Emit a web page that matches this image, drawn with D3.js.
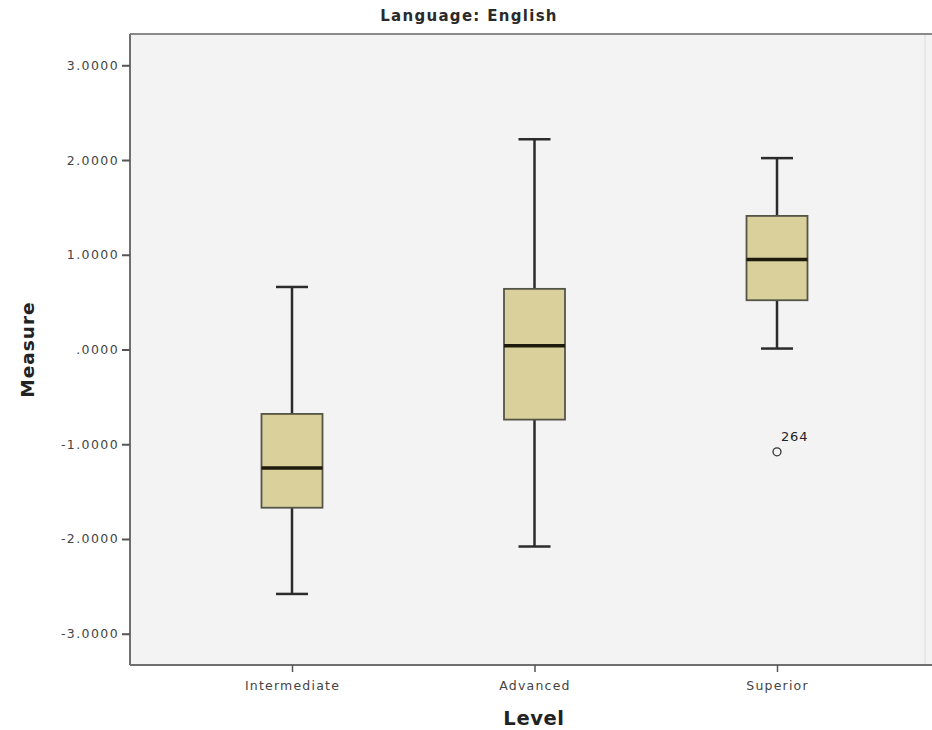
<!DOCTYPE html>
<html>
<head>
<meta charset="utf-8">
<script src="https://cdn.jsdelivr.net/npm/d3@7"></script>
<style>
  html, body { margin: 0; padding: 0; background: #fff; }
  svg { display: block; }
  text { font-family: "DejaVu Sans", "Liberation Sans", sans-serif; }
</style>
</head>
<body>
<svg id="chart" width="932" height="730"></svg>
<script>
// Box plot summaries per proficiency level
const levels = ["Intermediate", "Advanced", "Superior"];
const whiskerLow = [-2.58, -2.08, 0.01];
const q1 = [-1.67, -0.74, 0.52];
const median = [-1.25, 0.04, 0.95];
const q3 = [-0.68, 0.64, 1.41];
const whiskerHigh = [0.66, 2.22, 2.02];

// Outlying cases
const outlierLevel = ["Superior"];
const outlierValue = [-1.08];
const outlierCase = ["264"];

const yTicks = [3, 2, 1, 0, -1, -2, -3];
// SPSS-style labels: hyphen minus, no leading zero
const fmtTick = v => v === 0 ? ".0000" : (v < 0 ? "-" : "") + Math.abs(v).toFixed(4);

const svg = d3.select("#chart");
const frame = { left: 130, right: 925, top: 34, bottom: 665 };

const y = d3.scaleLinear().domain([-3.33, 3.33]).range([frame.bottom, frame.top]);
const x = d3.scalePoint().domain(levels).range([292, 777]);

// plot background
svg.append("rect")
  .attr("x", frame.left).attr("y", frame.top)
  .attr("width", 932 - frame.left).attr("height", frame.bottom - frame.top)
  .attr("fill", "#f3f3f3");

// faint inner right edge
svg.append("line")
  .attr("x1", frame.right).attr("x2", frame.right)
  .attr("y1", frame.top).attr("y2", frame.bottom)
  .attr("stroke", "#dcdcdc").attr("stroke-width", 1);

// top frame line
svg.append("line")
  .attr("x1", frame.left).attr("x2", 932)
  .attr("y1", frame.top).attr("y2", frame.top)
  .attr("stroke", "#8a8a8a").attr("stroke-width", 2);

// y axis
const yAxis = svg.append("g")
  .attr("transform", `translate(${frame.left},0)`)
  .call(d3.axisLeft(y).tickValues(yTicks).tickFormat(fmtTick).tickSize(8).tickPadding(3));
yAxis.select(".domain").attr("stroke", "#6f6f6f").attr("stroke-width", 2)
  .attr("d", `M0,${frame.top}V${frame.bottom}`);
yAxis.selectAll(".tick line").attr("stroke", "#555").attr("stroke-width", 2);
yAxis.selectAll(".tick text")
  .attr("fill", "#444").attr("font-size", 12.5).attr("letter-spacing", 1.4);

// x axis
const xAxis = svg.append("g")
  .attr("transform", `translate(0,${frame.bottom})`)
  .call(d3.axisBottom(x).tickSize(7).tickPadding(9));
xAxis.select(".domain").attr("stroke", "#6f6f6f").attr("stroke-width", 2)
  .attr("d", `M${frame.left},0H932`);
xAxis.selectAll(".tick line").attr("stroke", "#555").attr("stroke-width", 1.5);
xAxis.selectAll(".tick text")
  .attr("fill", "#444").attr("font-size", 12.5).attr("letter-spacing", 1.2);

// boxes
const data = levels.map((l, i) => ({
  level: l, lo: whiskerLow[i], q1: q1[i], med: median[i], q3: q3[i], hi: whiskerHigh[i]
}));
const boxW = 61, capW = 32;
const g = svg.append("g").selectAll("g").data(data).join("g")
  .attr("transform", d => `translate(${x(d.level)},0)`);

g.append("line")
  .attr("x1", 0).attr("x2", 0)
  .attr("y1", d => y(d.hi)).attr("y2", d => y(d.q3))
  .attr("stroke", "#2b2b2b").attr("stroke-width", 2.5);
g.append("line")
  .attr("x1", 0).attr("x2", 0)
  .attr("y1", d => y(d.q1)).attr("y2", d => y(d.lo))
  .attr("stroke", "#2b2b2b").attr("stroke-width", 2.5);
g.append("line")
  .attr("x1", -capW / 2).attr("x2", capW / 2)
  .attr("y1", d => y(d.hi)).attr("y2", d => y(d.hi))
  .attr("stroke", "#2b2b2b").attr("stroke-width", 2.5);
g.append("line")
  .attr("x1", -capW / 2).attr("x2", capW / 2)
  .attr("y1", d => y(d.lo)).attr("y2", d => y(d.lo))
  .attr("stroke", "#2b2b2b").attr("stroke-width", 2.5);
g.append("rect")
  .attr("x", -boxW / 2).attr("width", boxW)
  .attr("y", d => y(d.q3)).attr("height", d => y(d.q1) - y(d.q3))
  .attr("fill", "#d9d09c").attr("stroke", "#555547").attr("stroke-width", 1.8);
g.append("line")
  .attr("x1", -boxW / 2).attr("x2", boxW / 2)
  .attr("y1", d => y(d.med)).attr("y2", d => y(d.med))
  .attr("stroke", "#1e1a0c").attr("stroke-width", 3.5);

// outliers
const outliers = outlierLevel.map((l, i) => ({ level: l, v: outlierValue[i], id: outlierCase[i] }));
svg.append("g").selectAll("circle").data(outliers).join("circle")
  .attr("cx", d => x(d.level)).attr("cy", d => y(d.v)).attr("r", 4)
  .attr("fill", "none").attr("stroke", "#333").attr("stroke-width", 1.3);
svg.append("g").selectAll("text").data(outliers).join("text")
  .attr("x", d => x(d.level) + 4).attr("y", d => y(d.v) - 11)
  .attr("font-size", 13).attr("letter-spacing", 0.8).attr("fill", "#222")
  .text(d => d.id);

// titles
svg.append("text")
  .attr("x", 469).attr("y", 21).attr("text-anchor", "middle")
  .attr("font-size", 15).attr("font-weight", "bold").attr("fill", "#2a2a2a")
  .attr("letter-spacing", 1.3)
  .text("Language: English");
svg.append("text")
  .attr("x", 534).attr("y", 725).attr("text-anchor", "middle")
  .attr("font-size", 19.5).attr("font-weight", "bold").attr("fill", "#222")
  .attr("letter-spacing", 0.6)
  .text("Level");
svg.append("text")
  .attr("transform", `translate(34,${(frame.top + frame.bottom) / 2}) rotate(-90)`)
  .attr("text-anchor", "middle")
  .attr("font-size", 18.5).attr("font-weight", "bold").attr("fill", "#222")
  .attr("letter-spacing", 1)
  .text("Measure");
</script>
</body>
</html>
